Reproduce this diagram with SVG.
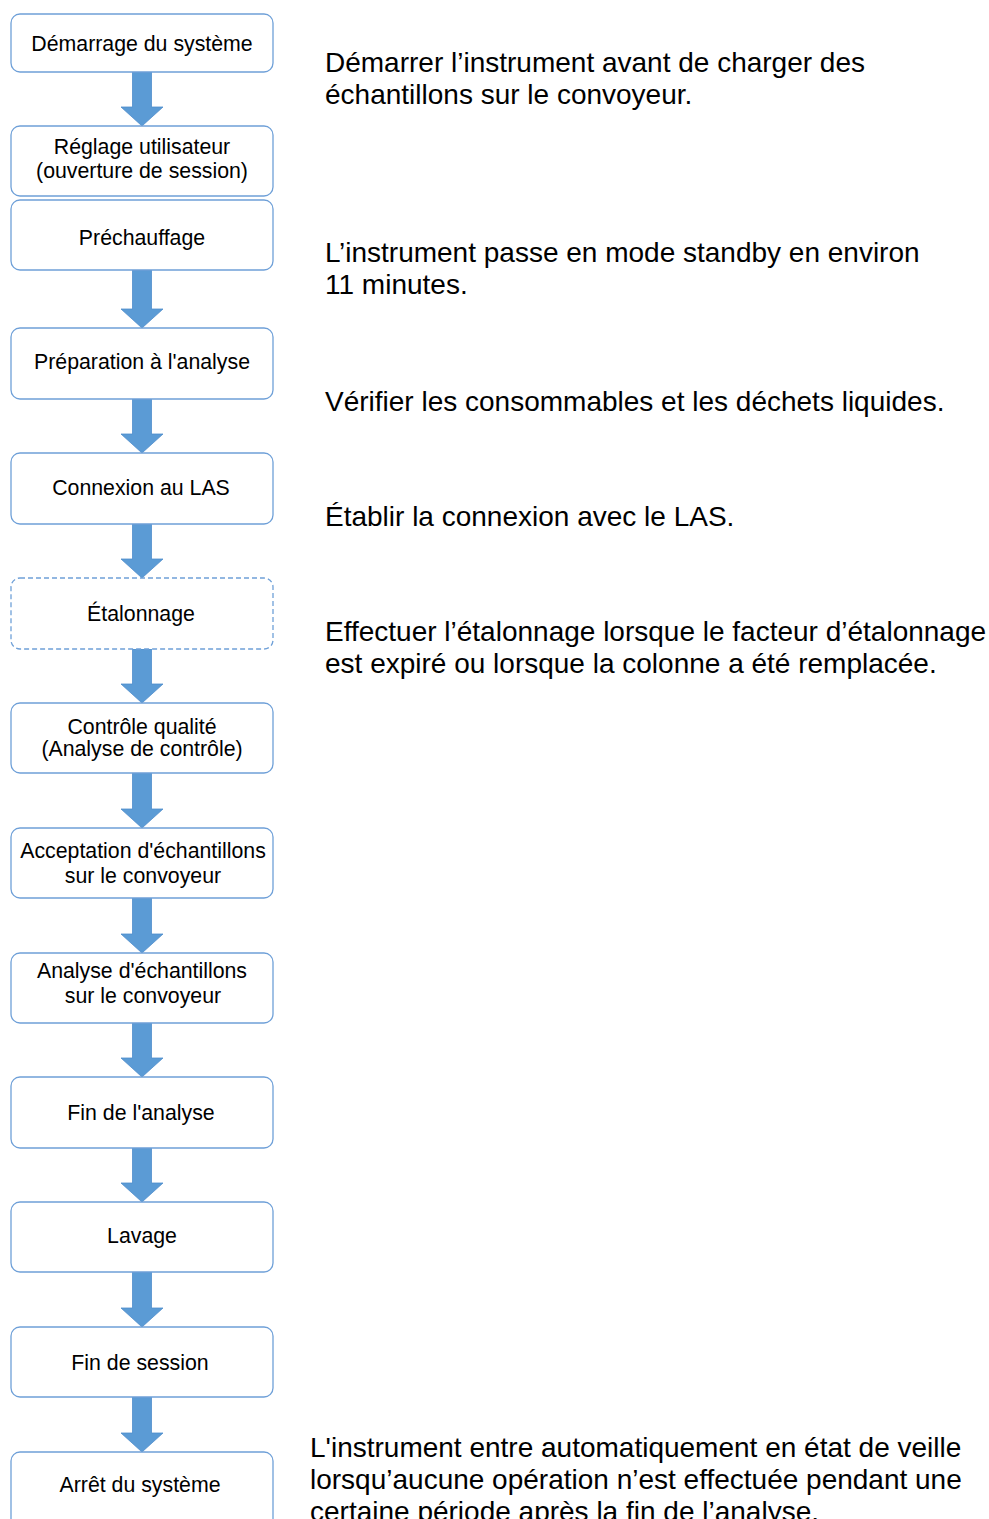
<svg xmlns="http://www.w3.org/2000/svg" width="989" height="1519" viewBox="0 0 989 1519">
<style>
.box{fill:#ffffff;stroke:#6fa0d8;stroke-width:1.3}
.dash{stroke-dasharray:5 3}
.bt{font-family:"Liberation Sans",Arial,sans-serif;font-size:21.3px;fill:#000;text-anchor:middle}
.nt{font-family:"Liberation Sans",Arial,sans-serif;font-size:28px;fill:#000}
.arr{fill:#5b9bd5;stroke:#4f8dcb;stroke-width:0.8}
</style>
<defs>
<path id="arrow" d="M-9.5,0 H9.5 V-19 H21 L0,0 Z"/>
</defs>
<rect width="989" height="1519" fill="#ffffff"/>
<g id="connectors">
<path class="arr" d="M132.5,72 H151.5 V107 H163 L142,126 L121,107 H132.5 Z"/>
<path class="arr" d="M132.5,270 H151.5 V309 H163 L142,328 L121,309 H132.5 Z"/>
<path class="arr" d="M132.5,399 H151.5 V434 H163 L142,453 L121,434 H132.5 Z"/>
<path class="arr" d="M132.5,524 H151.5 V559 H163 L142,578 L121,559 H132.5 Z"/>
<path class="arr" d="M132.5,649 H151.5 V684 H163 L142,703 L121,684 H132.5 Z"/>
<path class="arr" d="M132.5,773 H151.5 V809 H163 L142,828 L121,809 H132.5 Z"/>
<path class="arr" d="M132.5,898 H151.5 V934 H163 L142,953 L121,934 H132.5 Z"/>
<path class="arr" d="M132.5,1023 H151.5 V1058 H163 L142,1077 L121,1058 H132.5 Z"/>
<path class="arr" d="M132.5,1148 H151.5 V1183 H163 L142,1202 L121,1183 H132.5 Z"/>
<path class="arr" d="M132.5,1272 H151.5 V1308 H163 L142,1327 L121,1308 H132.5 Z"/>
<path class="arr" d="M132.5,1397 H151.5 V1433 H163 L142,1452 L121,1433 H132.5 Z"/>
</g>
<g id="n1"><rect class="box" x="11" y="14" width="262" height="58" rx="9"/><text class="bt" x="142" y="51">Démarrage du système</text></g>
<g id="n2"><rect class="box" x="11" y="126" width="262" height="70" rx="9"/><text class="bt" x="142" y="154">Réglage utilisateur</text><text class="bt" x="142" y="178">(ouverture de session)</text></g>
<g id="n3"><rect class="box" x="11" y="200" width="262" height="70" rx="9"/><text class="bt" x="142" y="245">Préchauffage</text></g>
<g id="n4"><rect class="box" x="11" y="328" width="262" height="71" rx="9"/><text class="bt" x="142" y="369">Préparation à l'analyse</text></g>
<g id="n5"><rect class="box" x="11" y="453" width="262" height="71" rx="9"/><text class="bt" x="141" y="495">Connexion au LAS</text></g>
<g id="n6"><rect class="box dash" x="11" y="578" width="262" height="71" rx="9"/><text class="bt" x="141" y="621">Étalonnage</text></g>
<g id="n7"><rect class="box" x="11" y="703" width="262" height="70" rx="9"/><text class="bt" x="142" y="734">Contrôle qualité</text><text class="bt" x="142" y="756">(Analyse de contrôle)</text></g>
<g id="n8"><rect class="box" x="11" y="828" width="262" height="70" rx="9"/><text class="bt" x="143" y="858">Acceptation d'échantillons</text><text class="bt" x="143" y="883">sur le convoyeur</text></g>
<g id="n9"><rect class="box" x="11" y="953" width="262" height="70" rx="9"/><text class="bt" x="142" y="978">Analyse d'échantillons</text><text class="bt" x="143" y="1003">sur le convoyeur</text></g>
<g id="n10"><rect class="box" x="11" y="1077" width="262" height="71" rx="9"/><text class="bt" x="141" y="1120">Fin de l'analyse</text></g>
<g id="n11"><rect class="box" x="11" y="1202" width="262" height="70" rx="9"/><text class="bt" x="142" y="1243">Lavage</text></g>
<g id="n12"><rect class="box" x="11" y="1327" width="262" height="70" rx="9"/><text class="bt" x="140" y="1370">Fin de session</text></g>
<g id="n13"><rect class="box" x="11" y="1452" width="262" height="80" rx="9"/><text class="bt" x="140" y="1492">Arrêt du système</text></g>
<g id="notes">
<text class="nt" x="325" y="72">Démarrer l’instrument avant de charger des</text>
<text class="nt" x="325" y="104">échantillons sur le convoyeur.</text>
<text class="nt" x="325" y="262">L’instrument passe en mode standby en environ</text>
<text class="nt" x="325" y="294">11 minutes.</text>
<text class="nt" x="325" y="411">Vérifier les consommables et les déchets liquides.</text>
<text class="nt" x="325" y="526">Établir la connexion avec le LAS.</text>
<text class="nt" x="325" y="641">Effectuer l’étalonnage lorsque le facteur d’étalonnage</text>
<text class="nt" x="325" y="673">est expiré ou lorsque la colonne a été remplacée.</text>
<text class="nt" x="310" y="1457">L'instrument entre automatiquement en état de veille</text>
<text class="nt" x="310" y="1489">lorsqu’aucune opération n’est effectuée pendant une</text>
<text class="nt" x="310" y="1521">certaine période après la fin de l’analyse.</text>
</g>
</svg>
